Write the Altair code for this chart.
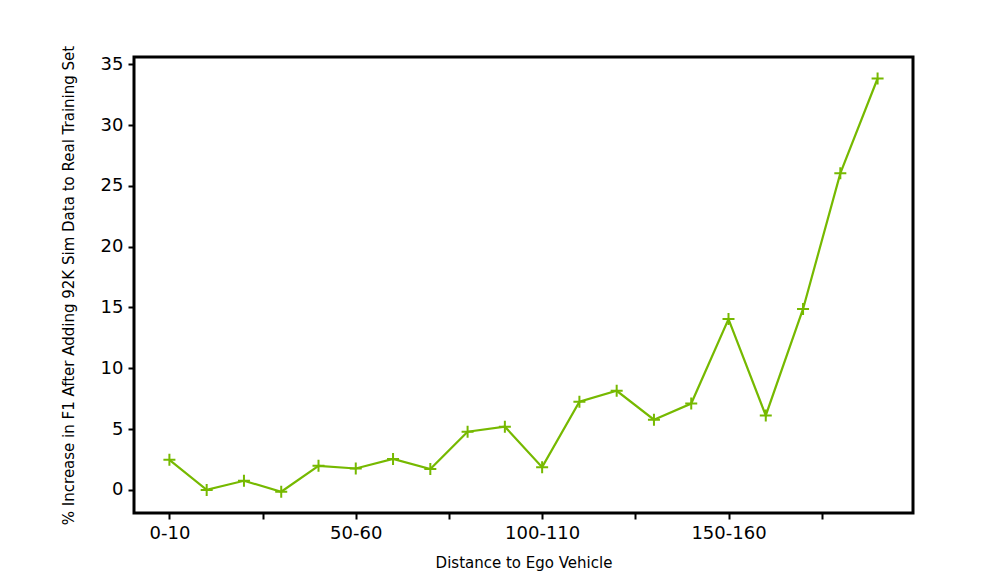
import altair as alt
import pandas as pd

categories = ["0-10", "10-20", "20-30", "30-40", "40-50", "50-60", "60-70", "70-80",
              "80-90", "90-100", "100-110", "110-120", "120-130", "130-140", "140-150",
              "150-160", "160-170", "170-180", "180-190", "190-200"]
increase = [2.47, 0.0, 0.75, -0.15, 1.98, 1.76, 2.55, 1.72, 4.78, 5.2, 1.87, 7.25, 8.15,
            5.77, 7.1, 14.05, 6.12, 14.88, 26.03, 33.83]

df = pd.DataFrame({"idx": list(range(len(categories))), "cat": categories, "val": increase})

tick_positions = [i * 2.5 for i in range(8)]
label_map = " : ".join(
    f"datum.value == {i} ? '{categories[i]}'" for i in range(0, len(categories), 5)
) + " : ''"

GREEN = "#76b900"
FONT = "DejaVu Sans"

x = alt.X("idx:Q", scale=alt.Scale(domain=[-0.95, 19.95], nice=False, zero=False),
          axis=alt.Axis(values=tick_positions, labelExpr=label_map, title="Distance to Ego Vehicle",
                        grid=False, domain=False, tickColor="black", tickWidth=2, tickSize=6,
                        labelFontSize=18, labelColor="black", labelFont=FONT, labelPadding=5,
                        titleFont=FONT, titleFontSize=15, titleFontWeight="normal",
                        titleColor="black", titlePadding=13))
y = alt.Y("val:Q", scale=alt.Scale(domain=[-1.9, 35.6], nice=False, zero=False),
          axis=alt.Axis(values=[0, 5, 10, 15, 20, 25, 30, 35],
                        title="% Increase in F1 After Adding 92K Sim Data to Real Training Set",
                        grid=False, domain=False, tickColor="black", tickWidth=2, tickSize=6,
                        labelFontSize=18, labelColor="black", labelFont=FONT, labelPadding=5,
                        titleFont=FONT, titleFontSize=15, titleFontWeight="normal",
                        titleColor="black", titlePadding=24))

line = alt.Chart(df).mark_line(color=GREEN, strokeWidth=2.2).encode(x=x, y=y)
pts = alt.Chart(df).mark_point(shape="M-1,0H1M0,-1V1", size=144, filled=False,
                               color=GREEN, strokeWidth=2, opacity=1).encode(x=x, y=y)

chart = (line + pts).properties(
    width=779, height=456,
    autosize=alt.AutoSizeParams(type="none"),
    padding={"left": 126, "top": 49, "right": 70, "bottom": 60},
).configure(background="white").configure_view(stroke="black", strokeWidth=3)

chart.save("out.html", embed_options={"renderer": "svg", "actions": False})
